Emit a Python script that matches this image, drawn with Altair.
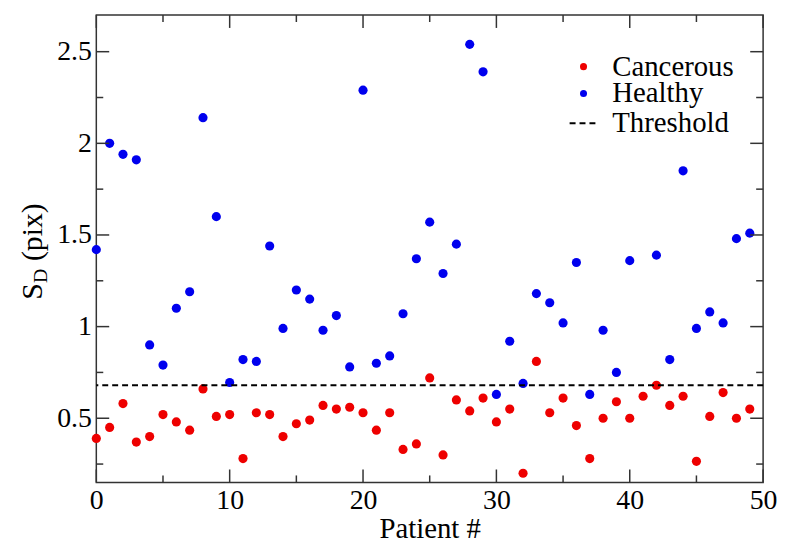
import altair as alt
import pandas as pd

# ---- data ----
patients = list(range(50))
cancerous = [0.39, 0.45, 0.58, 0.37, 0.40, 0.52, 0.48, 0.435, 0.66, 0.51,
             0.52, 0.28, 0.53, 0.52, 0.40, 0.47, 0.49, 0.57, 0.55, 0.56,
             0.53, 0.435, 0.53, 0.33, 0.36, 0.72, 0.30, 0.60, 0.54, 0.61,
             0.48, 0.55, 0.20, 0.81, 0.53, 0.61, 0.46, 0.28, 0.50, 0.59,
             0.50, 0.62, 0.68, 0.57, 0.62, 0.265, 0.51, 0.64, 0.50, 0.55]
healthy = [1.42, 2.00, 1.94, 1.91, 0.90, 0.79, 1.10, 1.19, 2.14, 1.60,
           0.695, 0.82, 0.81, 1.44, 0.99, 1.20, 1.15, 0.98, 1.06, 0.78,
           2.29, 0.80, 0.84, 1.07, 1.37, 1.57, 1.29, 1.45, 2.54, 2.39,
           0.63, 0.92, 0.69, 1.18, 1.13, 1.02, 1.35, 0.63, 0.98, 0.75,
           1.36, None, 1.39, 0.82, 1.85, 0.99, 1.08, 1.02, 1.48, 1.51]
threshold = [0.68]

series_names = ["Cancerous", "Healthy", "Threshold"]
series_colors = ["#ee0000", "#0000ee", "#000000"]

x_major = [0, 10, 20, 30, 40, 50]
x_minor = [5, 15, 25, 35, 45]
y_major = [0.5, 1.0, 1.5, 2.0, 2.5]
y_minor = [0.25, 0.75, 1.25, 1.75, 2.25]
x_title = "Patient #"
y_title_parts = ["S", "D", "(pix)"]

rows = []
for p, c, h in zip(patients, cancerous, healthy):
    rows.append({"patient": p, "value": c, "series": "Cancerous"})
    if h is not None:
        rows.append({"patient": p, "value": h, "series": "Healthy"})
df = pd.DataFrame(rows)
thr_df = pd.DataFrame({"value": threshold, "series": ["Threshold"]})

W, H = 672, 471
FONT = "'Liberation Serif', 'Times New Roman', serif"
FRAME = "#333333"
MAJOR, MINOR = 13, 7

xs = alt.Scale(domain=[0, 50], nice=False, zero=False)
ys = alt.Scale(domain=[0.15, 2.7], nice=False, zero=False)
cs = alt.Scale(domain=series_names, range=series_colors)

points = alt.Chart(df).mark_circle(size=85, opacity=1).encode(
    x=alt.X("patient:Q", scale=xs, axis=alt.Axis(
        orient="bottom", values=x_major, ticks=False, domain=False, grid=False,
        labelFont=FONT, labelFontSize=28, labelColor="black", labelPadding=4,
        labelFlush=False, title=x_title, titleFont=FONT, titleFontSize=29,
        titleFontWeight="normal", titleColor="black", titlePadding=1)),
    y=alt.Y("value:Q", scale=ys, axis=alt.Axis(
        orient="left", values=y_major, format="~g", ticks=False, domain=False,
        grid=False, labelFont=FONT, labelFontSize=28, labelColor="black",
        labelPadding=5, title=None)),
    color=alt.Color("series:N", scale=cs, legend=None),
)

rule = alt.Chart(thr_df).mark_rule(strokeDash=[6, 4], strokeWidth=2, color="black").encode(
    y=alt.Y("value:Q", scale=ys, axis=None),
)


# inward ticks on all four sides, placed through the scales
def x_ticks(vals, y0, y1):
    return alt.Chart(pd.DataFrame({"t": vals})).mark_rule(
        color=FRAME, strokeWidth=1.5).encode(
        x=alt.X("t:Q", scale=xs, axis=None), y=alt.value(y0), y2=alt.value(y1))


def y_ticks(vals, x0, x1):
    return alt.Chart(pd.DataFrame({"t": vals})).mark_rule(
        color=FRAME, strokeWidth=1.5).encode(
        y=alt.Y("t:Q", scale=ys, axis=None), x=alt.value(x0), x2=alt.value(x1))


tick_layers = [
    x_ticks(x_major, H, H - MAJOR), x_ticks(x_major, 0, MAJOR),
    x_ticks(x_minor, H, H - MINOR), x_ticks(x_minor, 0, MINOR),
    y_ticks(y_major, 0, MAJOR), y_ticks(y_major, W, W - MAJOR),
    y_ticks(y_minor, 0, MINOR), y_ticks(y_minor, W, W - MINOR),
]


def text_layer(txt, x, y, size, angle=0, baseline="alphabetic"):
    return alt.Chart(pd.DataFrame({"t": [txt]})).mark_text(
        font=FONT, fontSize=size, angle=angle, align="left", baseline=baseline,
        color="black").encode(text="t:N", x=alt.value(x), y=alt.value(y))


# legend (inside plot, top right)
LEG_SYM_X = 491
LEG_TXT_X = 520
LEG_ROWS = [52, 79, 109]


def legend_dot(i):
    return alt.Chart(pd.DataFrame({"s": [series_names[i]]})).mark_circle(
        size=50, opacity=1, color=series_colors[i]).encode(
        x=alt.value(LEG_SYM_X), y=alt.value(LEG_ROWS[i]))


legend_line = alt.Chart(pd.DataFrame({"s": [series_names[2]]})).mark_rule(
    strokeDash=[6, 4], strokeWidth=2, color=series_colors[2]).encode(
    x=alt.value(LEG_SYM_X - 14), x2=alt.value(LEG_SYM_X + 14), y=alt.value(LEG_ROWS[2]))

legend_texts = [text_layer(series_names[i], LEG_TXT_X, LEG_ROWS[i], 29, baseline="middle")
                for i in range(3)]

chart = alt.layer(
    points,
    rule,
    *tick_layers,
    text_layer(y_title_parts[0], -55, 287, 30, angle=270),
    text_layer(y_title_parts[1], -50, 270, 20, angle=270),
    text_layer(y_title_parts[2], -55, 248, 30, angle=270),
    legend_dot(0),
    legend_dot(1),
    legend_line,
    *legend_texts,
).resolve_axis(x="independent", y="independent").properties(
    width=W, height=H,
    autosize=alt.AutoSizeParams(type="none"),
    padding={"left": 89, "top": 5, "right": 14, "bottom": 60},
).configure_view(stroke=FRAME, strokeWidth=1.5)

chart.save("out.html", embed_options={"renderer": "svg", "actions": False})
